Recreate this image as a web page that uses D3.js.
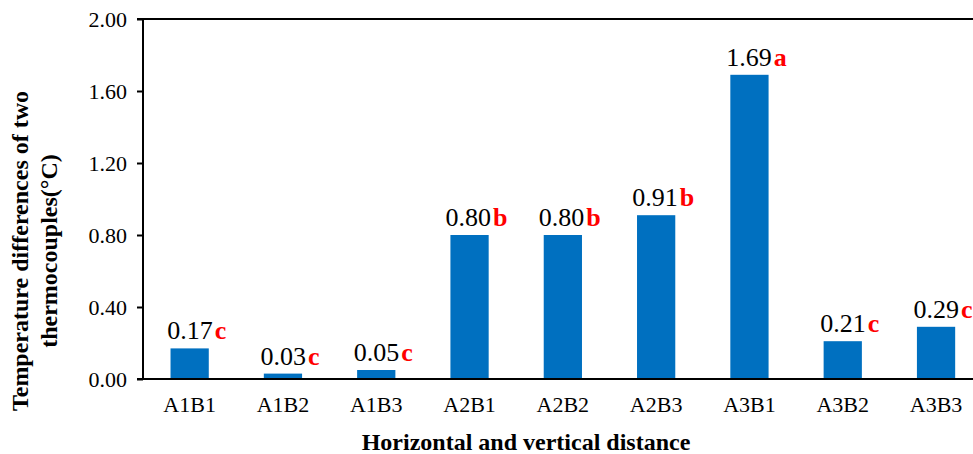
<!DOCTYPE html>
<html>
<head>
<meta charset="utf-8">
<script src="https://cdn.jsdelivr.net/npm/d3@7"></script>
<style>
	body { margin: 0; background: #fff; }
	svg { display: block; font-family: "Liberation Serif", serif; }
</style>
</head>
<body>
<svg id="chart" width="973" height="454"></svg>
<script>
// Groups along the x axis
var groups = ["A1B1", "A1B2", "A1B3", "A2B1", "A2B2", "A2B3", "A3B1", "A3B2", "A3B3"];
// Mean temperature differences
var values = [0.17, 0.03, 0.05, 0.80, 0.80, 0.91, 1.69, 0.21, 0.29];
// Significance letters
var letters = ["c", "c", "c", "b", "b", "b", "a", "c", "c"];
var yTicks = [0, 0.4, 0.8, 1.2, 1.6, 2.0];

const serif = "\"Liberation Serif\", serif";

function drawChart() {
	const svg = d3.select("#chart");
	const left = 143, top = 19, bottom = 379;
	// the plot runs a little past the right edge of the picture
	const step = 93.3;

	let x = d3.scaleBand()
	    .domain(groups)
	    .range([left, left + step * groups.length])
	    .paddingInner(0.59)
	    .paddingOuter(0.295);
	let y = d3.scaleLinear()
	    .domain([0, 2])
	    .range([bottom, top]);

	// Bars
	svg.append("g")
	  .selectAll("rect")
	    .data(values)
	  .enter().append("rect")
	    .attr("x", (d, i) => x(groups[i]))
	    .attr("y", d => y(d))
	    .attr("width", x.bandwidth())
	    .attr("height", d => bottom - y(d))
	    .attr("fill", "#0070c0");

	// Value labels with significance letters
	let lab = svg.append("g")
	    .attr("font-family", serif)
	  .selectAll("text")
	    .data(values)
	  .enter().append("text")
	    .attr("x", (d, i) => x(groups[i]) + x.bandwidth() / 2 + 7)
	    .attr("y", d => y(d) - 9)
	    .attr("text-anchor", "middle")
	    .attr("font-size", 26);
	lab.append("tspan")
	    .attr("fill", "#000")
	    .text(d => d.toFixed(2));
	lab.append("tspan")
	    .attr("fill", "#ff0000")
	    .attr("font-weight", "bold")
	    .attr("dx", 2)
	    .text((d, i) => letters[i]);

	// Y axis
	let yAxis = svg.append("g")
	    .attr("transform", `translate(${left},0)`)
	    .call(d3.axisLeft(y).tickValues(yTicks).tickFormat(d3.format(".2f"))
	        .tickSize(6).tickPadding(10));
	yAxis.attr("font-family", serif).attr("font-size", 22);
	yAxis.select(".domain").remove();
	yAxis.selectAll("line").attr("stroke", "#000").attr("stroke-width", 2);
	yAxis.selectAll("text").attr("fill", "#000");

	// Frame lines: left, top and bottom
	const frame = svg.append("g").attr("stroke", "#000").attr("stroke-width", 2);
	frame.append("line").attr("x1", left).attr("x2", left).attr("y1", y(2)).attr("y2", bottom);
	frame.append("line").attr("x1", left - 6).attr("x2", 973).attr("y1", y(2)).attr("y2", y(2));
	frame.append("line").attr("x1", left - 6).attr("x2", 973).attr("y1", bottom).attr("y2", bottom);

	// X tick labels
	svg.append("g")
	    .attr("font-family", serif)
	  .selectAll("text")
	    .data(groups)
	  .enter().append("text")
	    .attr("x", d => x(d) + x.bandwidth() / 2)
	    .attr("y", 412)
	    .attr("text-anchor", "middle")
	    .attr("font-size", 22)
	    .text(d => d);

	// Axis titles
	svg.append("text")
	    .attr("x", 526)
	    .attr("y", 450)
	    .attr("text-anchor", "middle")
	    .attr("font-family", serif)
	    .attr("font-size", 24)
	    .attr("font-weight", "bold")
	    .text("Horizontal and vertical distance");

	let yt = svg.append("text")
	    .attr("transform", "translate(0,251) rotate(-90)")
	    .attr("text-anchor", "middle")
	    .attr("font-family", serif)
	    .attr("font-size", 24)
	    .attr("font-weight", "bold");
	yt.append("tspan").attr("x", 0).attr("y", 28).text("Temperature differences of two");
	yt.append("tspan").attr("x", 0).attr("y", 57).text("thermocouples(\u00b0C)");
}

drawChart();
</script>
</body>
</html>
